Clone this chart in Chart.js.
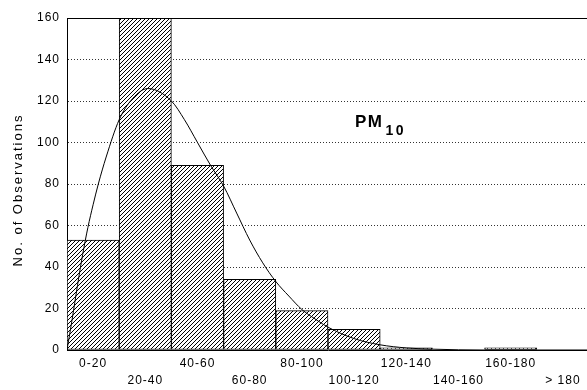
<!DOCTYPE html>
<html>
<head>
<meta charset="utf-8">
<title>PM10 histogram</title>
<script src="https://cdn.jsdelivr.net/npm/chart.js@4/dist/chart.umd.min.js"></script>
<style>
  html, body { margin: 0; padding: 0; background: #fff; overflow: hidden; }
  #wrap { position: relative; width: 592px; height: 390px; }
</style>
</head>
<body>
<div id="wrap"><canvas id="histChart"></canvas></div>
<script>
// class intervals and counts
const binLabels = ["0-20", "20-40", "40-60", "60-80", "80-100", "100-120", "120-140", "140-160", "160-180", "> 180"];
const binCounts = [53, 160, 89, 34, 19, 10, 1, 0, 1, 0];

// fitted distribution curve, read at these concentrations
const fitX = [0, 2, 4, 6, 8, 10, 12, 15, 20, 25, 31, 40, 45, 50, 55, 60, 65, 70, 75, 80, 85, 90, 95, 100, 110, 120, 130, 140, 160, 200];
const fitY = [0, 15, 31, 46, 59, 70, 80, 93, 111, 121, 126, 120, 111, 100, 89, 79, 66, 53, 42, 33, 26, 19.5, 15, 11, 5.5, 2.5, 1, 0.4, 0, 0];

const yMin = 0, yMax = 160, yStep = 20;
const yTitle = "No. of Observations";

const FONT = '"Liberation Sans", Arial, sans-serif';

function makeHatch() {
    const c = document.createElement("canvas");
    c.width = 4; c.height = 4;
    const g = c.getContext("2d");
    const img = g.createImageData(4, 4);
    for (let y = 0; y < 4; y++) {
        for (let x = 0; x < 4; x++) {
            const i = (y * 4 + x) * 4;
            const on = (x + y) % 4 === 3;
            const v = on ? 0 : 255;
            img.data[i] = v; img.data[i + 1] = v; img.data[i + 2] = v; img.data[i + 3] = 255;
        }
    }
    g.putImageData(img, 0, 0);
    return g.createPattern(c, "repeat");
}

// letter spacing for all chart text
const spacingPlugin = {
    id: "spacing",
    beforeInit(chart) { chart.ctx.letterSpacing = "1px"; },
    beforeLayout(chart) { chart.ctx.letterSpacing = "1px"; },
    beforeDraw(chart) { chart.ctx.letterSpacing = "1px"; }
};

// top frame line, y title and the PM10 label
const framePlugin = {
    id: "frame",
    afterDraw(chart) {
        const { ctx, chartArea } = chart;
        ctx.save();
        ctx.strokeStyle = "#000";
        ctx.lineWidth = 1;
        ctx.beginPath();
        ctx.moveTo(chartArea.left, chartArea.top + 0.5);
        ctx.lineTo(chartArea.right, chartArea.top + 0.5);
        ctx.stroke();

        // rotated axis title
        ctx.save();
        ctx.translate(18, (chartArea.top + chartArea.bottom) / 2 + 6);
        ctx.rotate(-Math.PI / 2);
        ctx.fillStyle = "#000";
        ctx.font = "13px " + FONT;
        ctx.letterSpacing = "2px";
        ctx.textAlign = "center";
        ctx.textBaseline = "middle";
        ctx.fillText(yTitle, 0, 0);
        ctx.restore();

        const x = chartArea.left + 288;
        const y = chartArea.top + 109;
        ctx.fillStyle = "#000";
        ctx.textBaseline = "alphabetic";
        ctx.textAlign = "left";
        ctx.font = "bold 17px " + FONT;
        ctx.letterSpacing = "1.5px";
        ctx.fillText("PM", x, y);
        const w = ctx.measureText("PM").width;
        ctx.font = "bold 14px " + FONT;
        ctx.letterSpacing = "2.5px";
        ctx.fillText("10", x + w + 2, y + 7.5);
        ctx.restore();
    }
};

document.addEventListener("DOMContentLoaded", function () {
    const ctx = document.getElementById("histChart").getContext("2d");
    const hatch = makeHatch();

    new Chart(ctx, {
        type: "bar",
        data: {
            labels: binLabels,
            datasets: [{
                label: "Observations",
                data: binCounts,
                backgroundColor: hatch,
                borderColor: "#000",
                borderWidth: 1,
                borderSkipped: false,
                barPercentage: 1,
                categoryPercentage: 1,
                grouped: false,
                order: 1
            }, {
                type: "line",
                label: "Fit",
                data: fitX.map((x, i) => ({ x: x, y: fitY[i] })),
                xAxisID: "x2",
                yAxisID: "y",
                borderColor: "#000",
                borderWidth: 1,
                pointRadius: 0,
                fill: false,
                cubicInterpolationMode: "monotone",
                order: 0
            }]
        },
        options: {
            responsive: true,
            maintainAspectRatio: false,
            animation: false,
            layout: { padding: { top: 18, right: 3, left: 0, bottom: 0 } },
            plugins: {
                legend: { display: false },
                tooltip: { enabled: false }
            },
            scales: {
                x: {
                    type: "category",
                    offset: true,
                    grid: { display: false, drawTicks: false },
                    border: { display: true, color: "#000", width: 1 },
                    ticks: {
                        autoSkip: false,
                        maxRotation: 0,
                        minRotation: 0,
                        padding: 6,
                        color: "#000",
                        font: { family: FONT, size: 12, lineHeight: 1.35 },
                        callback: function (value, index) {
                            const lbl = binLabels[index];
                            return index % 2 === 0 ? [lbl] : ["", lbl];
                        }
                    },
                    afterFit: function (scale) { scale.height = 40; }
                },
                x2: {
                    type: "linear",
                    display: false,
                    offset: false,
                    min: 0,
                    max: 200
                },
                y: {
                    min: yMin,
                    max: yMax,
                    grid: { color: "#333", lineWidth: 1, drawTicks: false },
                    border: { display: true, color: "#000", width: 1, dash: [1, 2] },
                    ticks: {
                        stepSize: yStep,
                        padding: 7,
                        color: "#000",
                        font: { family: FONT, size: 12 }
                    },
                    title: { display: false },
                    afterFit: function (scale) { scale.width = 67; }
                }
            }
        },
        plugins: [spacingPlugin, framePlugin]
    });
});
</script>
</body>
</html>
